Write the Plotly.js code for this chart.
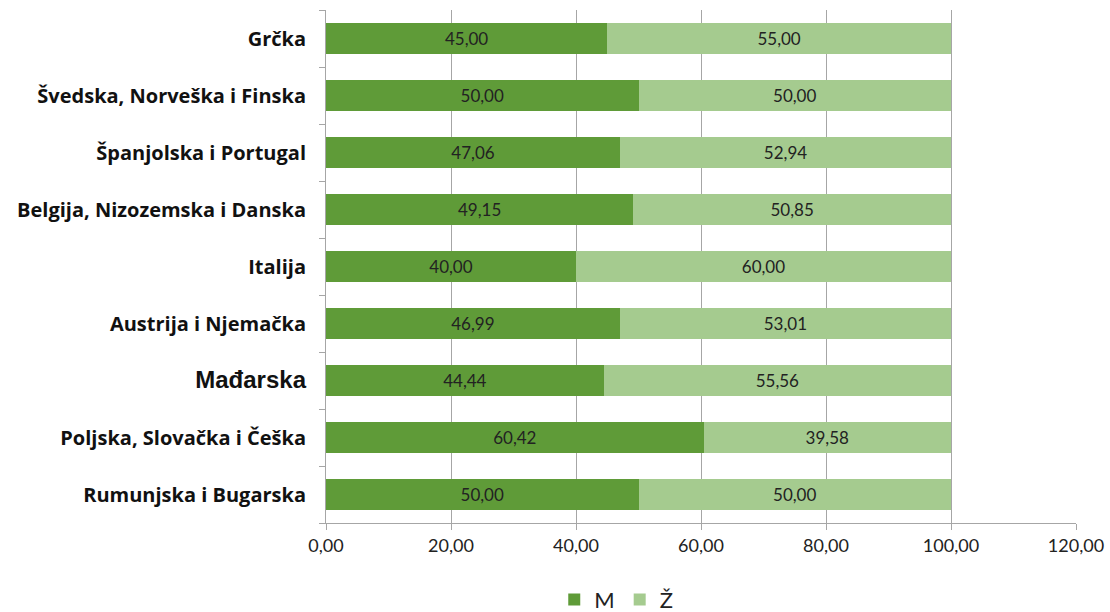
<!DOCTYPE html>
<html><head><meta charset="utf-8">
<script src="https://cdn.plot.ly/plotly-3.0.1.min.js"></script>
<style>html,body{margin:0;padding:0;background:#fff;}#chart{width:1110px;height:612px;}</style>
</head><body><div id="chart"></div>
<script>
const categories = ["Grčka","Švedska, Norveška i Finska","Španjolska i Portugal","Belgija, Nizozemska i Danska","Italija","Austrija i Njemačka","Mađarska","Poljska, Slovačka i Češka","Rumunjska i Bugarska"];
const valuesM = [45.00,50.00,47.06,49.15,40.00,46.99,44.44,60.42,50.00];
const valuesZ = [55.00,50.00,52.94,50.85,60.00,53.01,55.56,39.58,50.00];
const seriesNames = ["M","Ž"];
const tickLabels = categories.map(c => c === "Mađarska" ? '<span style="font-size:24px;font-family:Arial, Liberation Sans">'+c+'</span>' : c);

const common = {type:'bar', orientation:'h', y:categories, texttemplate:'%{x:.2f}', textposition:'inside', insidetextanchor:'middle',
  textfont:{family:'Lato, Open Sans, sans-serif', size:17, color:'#222'}, hoverinfo:'skip', cliponaxis:false};
const traces = [
  Object.assign({}, common, {x:valuesM, name:seriesNames[0], marker:{color:'#5f9b38', line:{width:0}}}),
  Object.assign({}, common, {x:valuesZ, name:seriesNames[1], marker:{color:'#a5cb8f', line:{width:0}}})
];
const layout = {
  width:1110, height:612, barmode:'stack', bargap:0.44, separators:',.',
  margin:{l:326, r:34, t:10, b:89, autoexpand:false}, paper_bgcolor:'#fff', plot_bgcolor:'#fff',
  font:{family:'Lato, Open Sans, sans-serif', color:'#222'},
  xaxis:{range:[0,120], dtick:20, tick0:0, tickformat:'.2f', showgrid:true, gridcolor:'#a6a6a6', gridwidth:1,
    showline:true, linecolor:'#a6a6a6', ticks:'outside', ticklen:6, tickcolor:'#a6a6a6', zeroline:false,
    tickfont:{size:18, color:'#222'}, fixedrange:true, automargin:false},
  yaxis:{autorange:'reversed', type:'category', tickmode:'array', tickvals:categories, ticktext:tickLabels,
    showline:true, linecolor:'#a6a6a6', ticks:'outside', ticklen:6, tickcolor:'#a6a6a6', tickson:'boundaries',
    tickfont:{family:'Open Sans, Lato, sans-serif', size:20, color:'#111', weight:'bold'}, ticklabelstandoff:15, showgrid:false, fixedrange:true, automargin:false},
  legend:{orientation:'h', x:0.387, xanchor:'center', yref:'container', y:0.02, yanchor:'middle', font:{size:22, color:'#222'}, traceorder:'normal'},
  showlegend:true
};
Plotly.newPlot('chart', traces, layout, {displayModeBar:false, staticPlot:true});
</script></body></html>
